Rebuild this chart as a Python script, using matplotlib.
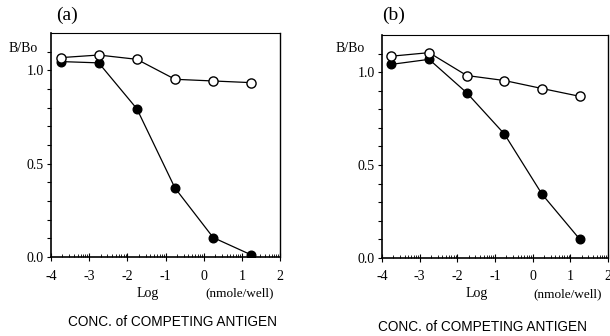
import numpy as np
import matplotlib
matplotlib.use("Agg")
import matplotlib.pyplot as plt

plt.rcParams['font.family'] = ['Liberation Serif', 'DejaVu Serif']

log_conc = [-3.75, -2.75, -1.75, -0.75, 0.25, 1.25]
a_open = [1.068, 1.082, 1.059, 0.952, 0.943, 0.934]
a_filled = [1.047, 1.040, 0.794, 0.369, 0.104, 0.011]
b_open = [1.086, 1.105, 0.982, 0.955, 0.912, 0.870]
b_filled = [1.042, 1.069, 0.889, 0.667, 0.343, 0.101]
panel_labels = ['(a)', '(b)']
yticks = [0.0, 0.5, 1.0]
ytick_labels = ['0.0', '0.5', '1.0']
xticks = [-4, -3, -2, -1, 0, 1, 2]

W, H = 610, 336
fig = plt.figure(figsize=(W / 100, H / 100), dpi=100)

def px_axes(l, r, t, b):
    return fig.add_axes([l / W, 1 - b / H, (r - l) / W, (b - t) / H])

boxes = [(51, 280, 33, 257), (382, 608, 35, 258)]
data = [(a_open, a_filled), (b_open, b_filled)]
label_pos = [(67, 15), (394, 15)]
bbo_pos = [(23, 49), (350, 49)]
log_pos = [(148, 293), (477, 294)]
unit_pos = [(240, 293), (568, 294)]
conc_pos = [(172, 322), (483, 327)]

minor_x = [d + np.log10(k) for d in range(-4, 2) for k in range(2, 10)]

for i, (box, (op, fl)) in enumerate(zip(boxes, data)):
    ax = px_axes(*box)
    ax.set_xlim(-4, 2)
    ax.set_ylim(0, 1.2)
    ax.plot(log_conc, fl, '-o', color='black', lw=0.9, ms=6.2,
            markerfacecolor='black', markeredgecolor='black', zorder=3)
    ax.plot(log_conc, op, '-o', color='black', lw=0.9, ms=6.6,
            markerfacecolor='white', markeredgecolor='black', mew=1.0, zorder=4)
    ax.set_yticks(yticks)
    ax.set_yticklabels(ytick_labels)
    ax.set_yticks(np.arange(0, 1.15, 0.1), minor=True)
    ax.set_xticks(xticks)
    ax.set_xticklabels([str(x) for x in xticks])
    ax.set_xticks(minor_x, minor=True)
    ax.tick_params(axis='y', which='both', direction='out', length=3, width=0.8,
                   labelsize=10, pad=2)
    ax.tick_params(axis='x', which='major', direction='inout', length=6, width=0.8,
                   labelsize=10, pad=6)
    ax.tick_params(axis='x', which='minor', direction='in', length=2.5, width=0.6)
    ax.spines['left'].set_linewidth(1.2)
    ax.spines['bottom'].set_linewidth(1.2)
    ax.spines['top'].set_linewidth(0.8)
    ax.spines['right'].set_linewidth(1.0)

    fig.text(label_pos[i][0] / W, 1 - label_pos[i][1] / H, panel_labels[i],
             ha='center', va='center', fontsize=14)
    fig.text(bbo_pos[i][0] / W, 1 - bbo_pos[i][1] / H, 'B/Bo',
             ha='center', va='center', fontsize=10)
    fig.text(log_pos[i][0] / W, 1 - log_pos[i][1] / H, 'Log',
             ha='center', va='center', fontsize=10)
    fig.text(unit_pos[i][0] / W, 1 - unit_pos[i][1] / H, '(nmole/well)',
             ha='center', va='center', fontsize=9.5)
    fig.text(conc_pos[i][0] / W, 1 - conc_pos[i][1] / H, 'CONC. of COMPETING ANTIGEN',
             ha='center', va='center', fontsize=9.8, family=['Liberation Sans', 'DejaVu Sans'])

fig.savefig('out.png', dpi=100)
